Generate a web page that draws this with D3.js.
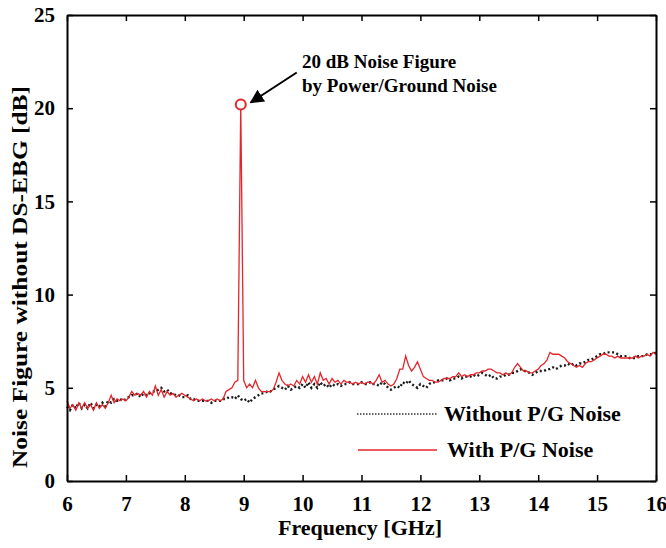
<!DOCTYPE html>
<html>
<head>
<meta charset="utf-8">
<script src="https://cdn.jsdelivr.net/npm/d3@7"></script>
<style>
  body { margin: 0; background: #fff; }
  text { font-family: "Liberation Serif", "Times New Roman", serif; font-weight: bold; }
</style>
</head>
<body>
<div id="chart"></div>
<script>
// frequency grid: 6 .. 16 GHz, 0.05 GHz step
const freqStart = 6, freqStep = 0.05;

const withNoise = [
  4.3, 3.9, 4.1, 3.8, 4.2, 3.9, 4.2, 3.9, 4.1, 3.8,
  4.2, 3.9, 4.1, 3.9, 4.2, 4.6, 4.2, 4.4, 4.3, 4.4,
  4.3, 4.5, 4.8, 4.6, 4.7, 4.6, 4.8, 4.5, 4.8, 4.6,
  5.1, 4.6, 4.9, 4.5, 4.8, 4.6, 4.7, 4.5, 4.6, 4.7,
  4.6, 4.5, 4.4, 4.3, 4.4, 4.3, 4.4, 4.3, 4.3, 4.4,
  4.3, 4.4, 4.3, 4.4, 4.8, 4.9, 5.0, 5.3, 5.4, 20.2,
  5.4, 5.0, 5.2, 5.0, 5.4, 5.0, 4.8, 4.8, 4.8, 4.8,
  4.9, 5.3, 5.8, 5.4, 5.2, 5.1, 5.2, 5.1, 5.4, 5.2,
  5.6, 5.3, 5.7, 5.3, 5.6, 5.2, 5.8, 5.4, 5.5, 5.2,
  5.5, 5.3, 5.4, 5.2, 5.4, 5.3, 5.3, 5.2, 5.3, 5.2,
  5.3, 5.2, 5.3, 5.3, 5.2, 5.4, 5.7, 5.3, 5.4, 5.2,
  5.1, 5.2, 5.5, 6.0, 6.0, 6.7, 6.2, 5.9, 6.1, 6.4,
  6.0, 5.6, 5.5, 5.4, 5.4, 5.3, 5.3, 5.4, 5.5, 5.5,
  5.5, 5.6, 5.6, 5.8, 5.6, 5.7, 5.6, 5.7, 5.7, 5.8,
  5.8, 5.9, 5.9, 6.0, 6.0, 5.9, 5.8, 5.8, 5.7, 5.8,
  5.7, 5.8, 6.1, 6.3, 6.1, 5.9, 5.9, 5.8, 5.8, 5.9,
  6.0, 6.2, 6.3, 6.5, 6.9, 6.8, 6.8, 6.8, 6.7, 6.6,
  6.4, 6.3, 6.2, 6.1, 6.2, 6.1, 6.3, 6.4, 6.4, 6.5,
  6.6, 6.7, 6.8, 6.8, 6.7, 6.7, 6.6, 6.7, 6.6, 6.6,
  6.6, 6.6, 6.6, 6.7, 6.6, 6.7, 6.7, 6.8, 6.7, 6.9,
  6.8
];

const withoutNoise = [
  4.0, 3.8, 4.1, 3.9, 4.2, 3.9, 4.1, 3.9, 4.2, 3.9,
  4.1, 4.0, 4.2, 4.0, 4.3, 4.2, 4.4, 4.3, 4.4, 4.3,
  4.4, 4.5, 4.6, 4.6, 4.7, 4.5, 4.7, 4.6, 4.7, 4.8,
  4.8, 4.9, 5.0, 4.8, 4.9, 4.7, 4.7, 4.6, 4.6, 4.5,
  4.5, 4.6, 4.4, 4.4, 4.3, 4.3, 4.3, 4.3, 4.3, 4.2,
  4.3, 4.3, 4.3, 4.4, 4.4, 4.5, 4.5, 4.4, 4.6, 4.4,
  4.3, 4.4, 4.2, 4.4, 4.5, 4.6, 4.7, 4.7, 4.8, 4.8,
  4.9, 5.0, 5.1, 5.0, 4.9, 5.1, 4.9, 5.0, 5.1, 5.0,
  5.2, 5.0, 5.3, 5.0, 5.2, 5.0, 5.3, 5.1, 5.2, 5.0,
  5.2, 5.1, 5.2, 5.1, 5.2, 5.2, 5.3, 5.2, 5.2, 5.2,
  5.3, 5.2, 5.2, 5.3, 5.2, 5.2, 5.1, 5.3, 5.2, 5.0,
  4.9, 5.0, 5.1, 5.0, 5.3, 5.2, 5.4, 5.2, 5.1, 5.0,
  5.2, 5.1, 5.0, 5.2, 5.3, 5.3, 5.4, 5.4, 5.4, 5.5,
  5.4, 5.5, 5.5, 5.6, 5.5, 5.6, 5.6, 5.6, 5.7, 5.6,
  5.7, 5.8, 5.7, 5.6, 5.7, 5.5, 5.5, 5.6, 5.6, 5.7,
  5.7, 5.8, 5.8, 5.9, 6.0, 5.9, 5.9, 5.8, 5.7, 5.8,
  5.9, 5.9, 5.9, 6.0, 6.0, 6.1, 6.0, 6.1, 6.2, 6.2,
  6.3, 6.2, 6.3, 6.2, 6.3, 6.3, 6.4, 6.5, 6.5, 6.6,
  6.7, 6.8, 6.8, 6.9, 6.9, 6.9, 6.9, 6.8, 6.7, 6.7,
  6.7, 6.6, 6.6, 6.6, 6.7, 6.7, 6.7, 6.8, 6.8, 6.8,
  6.9
];

const xTicks = [6, 7, 8, 9, 10, 11, 12, 13, 14, 15, 16];
const yTicks = [0, 5, 10, 15, 20, 25];
const peak = { f: 8.95, v: 20.2 };
const annotationLines = ["20 dB Noise Figure", "by Power/Ground Noise"];
const legendLabels = ["Without P/G Noise", "With P/G Noise"];

const width = 666, height = 548;
const margin = { top: 15, right: 10, bottom: 67, left: 67 };

const svg = d3.select("#chart").append("svg")
    .attr("width", width)
    .attr("height", height);

const x = d3.scaleLinear().domain([6, 16]).range([margin.left, 656]);
const y = d3.scaleLinear().domain([0, 25]).range([481, margin.top]);

const toPoints = arr => arr.map((v, i) => ({ f: freqStart + i * freqStep, v: v }));

const line = d3.line().x(d => x(d.f)).y(d => y(d.v));

// series
svg.append("path")
    .datum(toPoints(withoutNoise))
    .attr("fill", "none")
    .attr("stroke", "#1a1a1a")
    .attr("stroke-width", 2.4)
    .attr("stroke-dasharray", "2,2.5")
    .attr("d", line);

svg.append("path")
    .datum(toPoints(withNoise))
    .attr("fill", "none")
    .attr("stroke", "#e3262b")
    .attr("stroke-width", 1.3)
    .attr("d", line);

// axes (ticks point inward, box on all four sides)
const axisStyle = g => {
    g.selectAll("path.domain").attr("stroke", "#000").attr("stroke-width", 2);
    g.selectAll(".tick line").attr("stroke", "#000").attr("stroke-width", 1.5);
    g.selectAll("text").attr("font-size", 21).attr("fill", "#000")
        .style("font-family", "'Liberation Serif', serif").style("font-weight", "bold");
};

svg.append("g")
    .attr("transform", `translate(0,${y(0)})`)
    .call(d3.axisBottom(x).tickValues(xTicks).tickSizeInner(-6).tickSizeOuter(0).tickPadding(15))
    .call(axisStyle);

svg.append("g")
    .attr("transform", `translate(0,${y(25)})`)
    .call(d3.axisTop(x).tickValues(xTicks).tickSizeInner(-6).tickSizeOuter(0).tickFormat(""))
    .call(axisStyle);

svg.append("g")
    .attr("transform", `translate(${x(6)},0)`)
    .call(d3.axisLeft(y).tickValues(yTicks).tickSizeInner(-6).tickSizeOuter(0).tickPadding(12))
    .call(axisStyle);

svg.append("g")
    .attr("transform", `translate(${x(16)},0)`)
    .call(d3.axisRight(y).tickValues(yTicks).tickSizeInner(-6).tickSizeOuter(0).tickFormat(""))
    .call(axisStyle);

// axis titles
svg.append("text")
    .attr("x", 360)
    .attr("y", 535)
    .attr("text-anchor", "middle")
    .attr("font-size", 21)
    .attr("textLength", 164)
    .attr("lengthAdjust", "spacingAndGlyphs")
    .text("Frequency [GHz]");

svg.append("text")
    .attr("transform", "translate(27,277) rotate(-90)")
    .attr("text-anchor", "middle")
    .attr("font-size", 22)
    .attr("textLength", 382)
    .attr("lengthAdjust", "spacingAndGlyphs")
    .text("Noise Figure without DS-EBG [dB]");

// peak marker + annotation
svg.append("circle")
    .attr("cx", x(peak.f))
    .attr("cy", y(peak.v))
    .attr("r", 5)
    .attr("fill", "#fff")
    .attr("stroke", "#e3262b")
    .attr("stroke-width", 2);

svg.append("defs").append("marker")
    .attr("id", "arrow")
    .attr("viewBox", "0 0 10 10")
    .attr("refX", 9).attr("refY", 5)
    .attr("markerWidth", 7).attr("markerHeight", 7)
    .attr("orient", "auto")
    .append("path")
    .attr("d", "M0,0 L10,5 L0,10 z")
    .attr("fill", "#000");

svg.append("line")
    .attr("x1", x(peak.f) + 56).attr("y1", y(peak.v) - 32)
    .attr("x2", x(peak.f) + 10).attr("y2", y(peak.v) - 2)
    .attr("stroke", "#000")
    .attr("stroke-width", 2)
    .attr("marker-end", "url(#arrow)");

svg.append("g").selectAll("text")
    .data(annotationLines)
    .join("text")
    .attr("x", 302)
    .attr("y", (d, i) => 68 + i * 24)
    .attr("font-size", 19)
    .text(d => d);

// legend
const legend = svg.append("g");
legend.append("line")
    .attr("x1", 357).attr("x2", 437).attr("y1", 414).attr("y2", 414)
    .attr("stroke", "#333").attr("stroke-width", 1.5).attr("stroke-dasharray", "1.5,1.5");
legend.append("line")
    .attr("x1", 358).attr("x2", 437).attr("y1", 450).attr("y2", 450)
    .attr("stroke", "#e3262b").attr("stroke-width", 1.5);
legend.selectAll("text")
    .data(legendLabels)
    .join("text")
    .attr("x", (d, i) => i === 0 ? 444 : 447)
    .attr("y", (d, i) => i === 0 ? 421 : 457)
    .attr("font-size", 22)
    .text(d => d);
</script>
</body>
</html>
